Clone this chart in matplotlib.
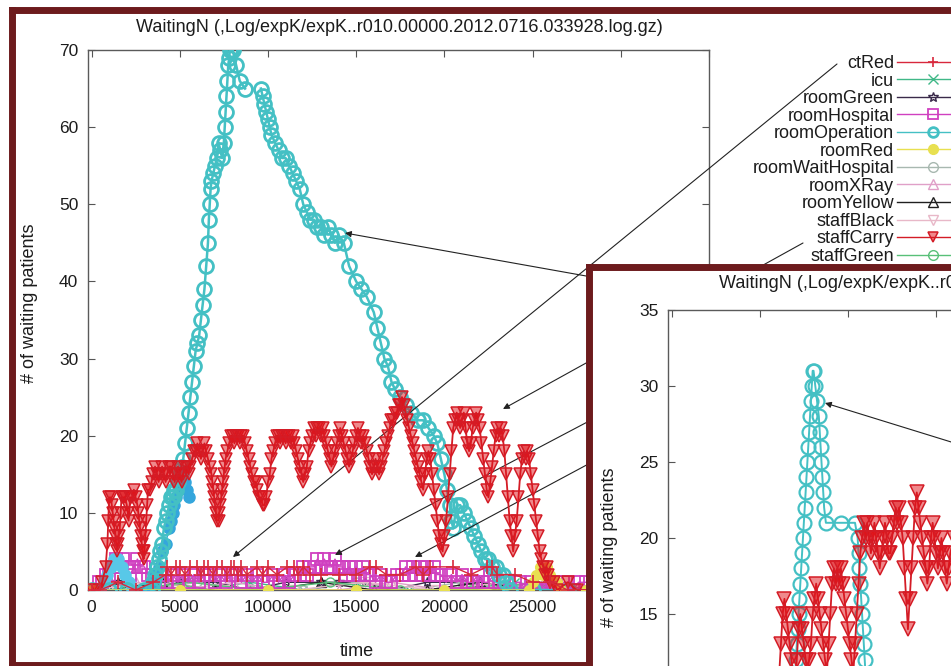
import numpy as np
import matplotlib
matplotlib.use("Agg")
import matplotlib.pyplot as plt

plt.rcParams["font.family"] = ["Liberation Sans", "DejaVu Sans"]

W, H = 951, 666
FRAME = "#6d1b1d"
INK = "#1c1c1c"
TITLE = "WaitingN (,Log/expK/expK..r010.00000.2012.0716.033928.log.gz)"
nan = np.nan

# ---------------- main run (time, # waiting) ----------------
ct_t = [0, 500, 1500, 2500, 3500, 4200, 4300, 4500, 4800, 5000,
        5300, 5600, 6000, 6200, 6400, 6600, 6900, 7100, 7400, 7700,
        7900, 8100, 8300, 8500, 8800, 9400, 9700, 10000, 10500, 11100,
        11500, 11700, 12000, 12400, 13000, 14000, 15000, 15800, 16100, 16700,
        17500, 18400, 18800, 19200, 20500, 21500, 22400, 22700, 23000, 24000,
        25000, 26000, 27000, 28500]
ct_n = [0, 0, 1, 0, 1, 2, 3, 2, 3, 3,
        2, 3, 3, 2, 3, 3, 2, 3, 3, 2,
        3, 3, 2, 3, 2, 3, 2, 3, 2, 3,
        3, 2, 3, 2, 2, 2, 2, 3, 3, 2,
        2, 3, 2, 3, 3, 2, 3, 3, 2, 2,
        1, 1, 0, 0]

icu_t = [0, 2000, 4000, 6000, 9000, 12000, 15000, 18000, 21000, 24000, 27000, 28500]
icu_n = [0, 1, 0, 0, 1, 0, 1, 0, 0, 1, 0, 0]

green_t = [0, 1500, 3000, 5000, 7000, 9000, 11000, 13000, 14000, 15500,
           17000, 19000, 21000, 23000, 25000, 26500, 28500]
green_n = [0, 1, 0, 1, 1, 0, 1, 1, 1, 1, 0, 1, 1, 0, 1, 0, 0]

hosp_t = [200, 400, 600, 800, 1000, 1200, 1400, 1600, 1800, 2000,
          2200, 2400, 2600, 2800, 3000, 3200, 3400, 3600, 3800, 4000,
          4300, 4600, 4900, 5200, 5500, 5800, 6100, 6400, 6700, 7000,
          7300, 7600, 7900, 8200, 8500, 8800, 9100, 9400, 9700, 10000,
          10300, 10600, 10900, 11200, 11500, 11800, 12000, 12200, 12400, 12600,
          12800, 13000, 13200, 13400, 13600, 13800, 14000, 14200, 14400, 14600,
          14800, 15000, 15200, 15400, 15600, 15800, 16100, 16400, 16700, 17000,
          17300, 17600, 17800, 18000, 18200, 18400, 18600, 18800, 19000, 19200,
          19400, 19600, 19800, 20100, 20400, 20700, 21000, 21300, 21600, 21900,
          22200, 22500, 22800, 23100, 23400, 23700, 24000, 24300, 24600, 24900,
          25200, 25500, 25800, 26100, 26400, 26700, 27000, 27300, 27600, 28000]
hosp_n = [0, 1, 1, 2, 2, 3, 4, 3, 4, 3,
          2, 3, 4, 3, 3, 2, 2, 1, 1, 2,
          1, 2, 1, 2, 1, 2, 1, 2, 2, 1,
          2, 1, 2, 2, 1, 2, 1, 2, 1, 1,
          2, 1, 2, 1, 2, 2, 3, 2, 3, 3,
          4, 3, 4, 3, 3, 4, 3, 3, 2, 3,
          2, 3, 2, 3, 2, 2, 1, 2, 1, 1,
          2, 2, 3, 2, 3, 2, 3, 2, 3, 2,
          3, 2, 2, 1, 2, 1, 2, 1, 1, 2,
          1, 1, 2, 1, 1, 0, 1, 1, 0, 1,
          0, 1, 0, 1, 0, 1, 1, 0, 1, 1]

op_t = [0, 1000, 2000, 3000, 3400, 3500, 3600, 3700, 3800, 3900,
        4000, 4100, 4200, 4300, 4400, 4500, 4600, 4700, 4800, 4900,
        5000, 5100, 5200, 5300, 5400, 5500, 5600, 5700, 5800, 5900,
        6000, 6100, 6200, 6300, 6400, 6500, 6600, 6650, 6700, 6750,
        6800, 6900, 7000, 7100, 7200, 7300, 7400, 7500, 7550, 7600,
        7650, 7700, 7750, 7800, 7850, 7900, 8000, 8200, 8400, 8700,
        9100, 9600, 9700, 9800, 9900, 10000, 10100, 10200, 10400, 10600,
        10800, 11000, 11200, 11400, 11600, 11800, 12000, 12200, 12400, 12600,
        12800, 13000, 13200, 13400, 13600, 13800, 14000, 14300, 14600, 15000,
        15300, 15600, 16000, 16200, 16400, 16600, 16800, 17000, 17200, 17500,
        17800, 18100, 18500, 18800, 19100, 19400, 19600, 19800, 20000, 20150,
        20300, 20400, 20500, 20700, 20900, 21100, 21300, 21500, 21700, 21900,
        22100, 22300, 22500, 22700, 22900, 23100, 23300, 23500, 23700, 25000,
        27000, 28500]
op_n = [0, 0, 0, 0, 0, 1, 2, 3, 4, 5,
        6, 8, 9, 10, 11, 12, 12, 13, 13, 14,
        15, 16, 17, 19, 21, 23, 25, 27, 29, 31,
        32, 33, 35, 37, 39, 42, 45, 48, 50, 52,
        53, 54, 55, 56, 58, 57, 56, 58, 60, 62,
        64, 66, 68, 69, 70, 70, 70, 68, 66, 65,
        nan, 65, 64, 63, 62, 61, 60, 59, 58, 57,
        56, 56, 55, 54, 53, 52, 50, 49, 48, 48,
        47, 47, 46, 47, 46, 45, 46, 45, 42, 40,
        39, 38, 36, 34, 32, 30, 29, 27, 26, 25,
        24, 23, 22, 22, 21, 20, 19, 17, 15, 13,
        11, 9, 8, 11, 11, 10, 9, 8, 7, 6,
        5, 4, 4, 3, 3, 2, 2, 1, 0, 0,
        0, 0]

red_t = [0, 5000, 10000, 15000, 20000, 24800, 25000, 25200, 25400, 25600,
         25800, 26000, 26200, 26400, 26600, 28000]
red_n = [0, 0, 0, 0, 0, 0, 1, 2, 3, 2, 3, 2, 1, 1, 0, 0]

wait_t = [0, 3000, 6000, 9000, 12000, 15000, 18000, 21000, 24000, 27000]
wait_n = [0, 0, 1, 0, 0, 1, 0, 1, 0, 0]

xray_t = [0, 2500, 5000, 8000, 11000, 14000, 17000, 20000, 23000, 26000]
xray_n = [0, 1, 0, 1, 0, 0, 1, 0, 1, 0]

yel_t = [0, 1000, 4000, 7000, 10000, 13000, 16000, 19000, 22000, 25000, 28000]
yel_n = [0, 0, 1, 0, 0, 1, 0, 0, 1, 0, 0]

black_t = [0, 3500, 7500, 11500, 15500, 19500, 23500, 27500]
black_n = [0, 1, 0, 0, 1, 0, 1, 0]

carry_t = [0, 300, 600, 800, 900, 950, 1000, 1100, 1150, 1200,
           1250, 1300, 1350, 1400, 1450, 1500, 1550, 1600, 1650, 1700,
           1800, 1900, 2000, 2050, 2100, 2200, 2300, 2400, 2500, 2600,
           2650, 2700, 2750, 2800, 2850, 2900, 2950, 3000, 3050, 3100,
           3150, 3200, 3300, 3400, 3500, 3600, 3700, 3800, 3900, 4000,
           4100, 4200, 4300, 4400, 4500, 4600, 4700, 4800, 4900, 5000,
           5100, 5200, 5300, 5400, 5500, 5600, 5700, 5800, 5900, 6000,
           6100, 6200, 6300, 6400, 6500, 6600, 6700, 6800, 6850, 6900,
           6950, 7000, 7050, 7100, 7200, 7250, 7300, 7350, 7400, 7450,
           7500, 7550, 7600, 7700, 7800, 7900, 8000, 8100, 8200, 8300,
           8400, 8500, 8600, 8700, 8800, 8900, 9000, 9100, 9200, 9300,
           9400, 9500, 9600, 9700, 9800, 9900, 10000, 10100, 10200, 10300,
           10400, 10500, 10600, 10700, 10800, 10900, 11000, 11100, 11200, 11300,
           11400, 11500, 11600, 11700, 11800, 11900, 12000, 12100, 12200, 12300,
           12400, 12500, 12600, 12700, 12800, 12900, 13000, 13100, 13200, 13300,
           13400, 13500, 13600, 13700, 13800, 13900, 14000, 14100, 14200, 14300,
           14400, 14500, 14600, 14700, 14800, 14900, 15000, 15100, 15200, 15300,
           15400, 15500, 15600, 15700, 15800, 15900, 16000, 16100, 16200, 16300,
           16400, 16500, 16600, 16700, 16800, 16900, 17000, 17100, 17200, 17300,
           17400, 17500, 17600, 17700, 17800, 17900, 18000, 18100, 18200, 18300,
           18400, 18500, 18600, 18700, 18800, 18900, 19000, 19100, 19200, 19300,
           19400, 19500, 19600, 19700, 19800, 19900, 20000, 20100, 20200, 20300,
           20400, 20500, 20600, 20700, 20800, 20900, 21000, 21100, 21200, 21300,
           21400, 21500, 21600, 21700, 21800, 21900, 22000, 22100, 22200, 22300,
           22400, 22500, 22600, 22700, 22800, 22900, 23000, 23100, 23200, 23300,
           23400, 23500, 23600, 23700, 23800, 23900, 24000, 24100, 24200, 24300,
           24400, 24500, 24600, 24700, 24800, 24900, 25000, 25100, 25200, 25300,
           25400, 25500, 25600, 25700, 25800, 25900, 26000, 26200, 26400, 27000,
           27500, 28500]
carry_n = [0, 0, 1, 3, 6, 9, 12, 12, 11, 10,
           9, 8, 7, 6, 5, 6, 7, 8, 10, 12,
           12, 12, 11, 10, 9, 12, 12, 13, 12, 11,
           10, 9, 8, 7, 6, 5, 4, 5, 7, 9,
           11, 13, 13, 14, 15, 16, 15, 14, 15, 16,
           15, 14, 15, 16, 16, 15, 14, 15, 16, 15,
           14, 15, 16, 16, 15, 16, 17, 18, 18, 19,
           18, 17, 18, 19, 18, 17, 16, 15, 14, 13,
           12, 11, 10, 9, 9, 10, 11, 12, 13, 14,
           15, 16, 17, 18, 19, 20, 20, 19, 20, 20,
           19, 20, 20, 19, 18, 17, 16, 15, 14, 14,
           13, 12, 12, 11, 11, 12, 14, 15, 17, 18,
           19, 20, 20, 19, 20, 20, 19, 20, 20, 19,
           20, 19, 18, 17, 16, 15, 14, 15, 16, 18,
           19, 20, 21, 20, 21, 21, 20, 21, 20, 19,
           18, 17, 16, 17, 18, 19, 20, 21, 20, 19,
           18, 17, 16, 17, 18, 19, 20, 21, 20, 19,
           20, 19, 18, 17, 16, 15, 16, 17, 16, 15,
           16, 17, 18, 19, 20, 21, 22, 22, 23, 23,
           24, 24, 25, 24, 23, 22, 21, 20, 19, 18,
           17, 16, 15, 14, 13, 15, 17, 18, 17, 15,
           13, 11, 9, 7, 6, 5, 7, 9, 12, 15,
           18, 21, 22, 23, 22, 21, 22, 23, 21, 19,
           18, 19, 21, 22, 23, 22, 21, 19, 17, 15,
           13, 12, 14, 16, 18, 20, 21, 20, 21, 20,
           18, 15, 12, 9, 7, 5, 7, 9, 12, 15,
           17, 18, 17, 18, 17, 15, 13, 11, 9, 7,
           5, 4, 3, 2, 3, 2, 1, 1, 0, 1,
           0, 0]

sgreen_t = [0, 2000, 5500, 9500, 13500, 17500, 21500, 25500, 28500]
sgreen_n = [0, 0, 1, 0, 1, 0, 0, 1, 0]

# two unlabelled blue series in the lower left
blue_t = [3200, 3400, 3600, 3800, 4000, 4200, 4400, 4500, 4600, 4700,
          4800, 4900, 5000, 5100, 5200, 5300, 5400, 5500]
blue_n = [0, 1, 2, 3, 5, 6, 8, 9, 10, 11, 12, 13, 14, 15, 15, 14, 13, 12]
sky_t = [500, 700, 900, 1100, 1300, 1500, 1700, 1900, 2100, 2300]
sky_n = [0, 1, 2, 3, 4, 4, 3, 2, 1, 0]

# ---------------- second run (inset) ----------------
ins_op_t = [6600, 6800, 6900, 7000, 7050, 7100, 7150, 7200, 7250, 7300,
            7350, 7400, 7450, 7500, 7550, 7600, 7650, 7700, 7750, 7800,
            7850, 7900, 7950, 8000, 8050, 8150, 8250, 8350, 8400, 8450,
            8500, 8550, 8600, 8650, 8750, 9600, 10400, 10550, 10600, 10650,
            10700, 10750, 10800, 10850, 10900, 10950, 11000, 11100, 11300]
ins_op_n = [2, 5, 8, 10, 12, 13, 14, 15, 16, 17,
            18, 19, 20, 21, 22, 23, 24, 25, 26, 27,
            28, 29, 30, 31, 31, 30, 29, 28, 27, 26,
            25, 24, 23, 22, 21, 21, 21, 20, 19, 18,
            17, 16, 15, 14, 13, 12, 11, 9, 7]

ins_carry_t = [5800, 6000, 6100, 6200, 6300, 6400, 6500, 6600, 6700, 6800,
               6900, 7000, 7100, 7200, 7300, 7400, 7500, 7600, 7700, 7800,
               7900, 8000, 8100, 8200, 8300, 8400, 8500, 8600, 8700, 8800,
               8900, 9000, 9100, 9200, 9300, 9400, 9500, 9600, 9700, 9800,
               9900, 10000, 10100, 10200, 10300, 10400, 10500, 10600, 10700, 10800,
               10900, 11000, 11100, 11200, 11300, 11400, 11500, 11600, 11700, 11800,
               11900, 12000, 12100, 12200, 12300, 12400, 12500, 12600, 12700, 12800,
               12900, 13000, 13100, 13200, 13300, 13400, 13500, 13600, 13700, 13800,
               13900, 14000, 14100, 14200, 14300, 14400, 14500, 14600, 14700, 14800,
               14900, 15000, 15100, 15200, 15300, 15400, 15500, 15600, 15700, 15800, 16000]
ins_carry_n = [5, 8, 11, 13, 15, 16, 15, 14, 13, 12,
               11, 10, 12, 14, 15, 14, 13, 12, 11, 12,
               13, 15, 16, 17, 16, 15, 14, 13, 12, 11,
               13, 15, 17, 18, 17, 18, 17, 18, 17, 16,
               15, 14, 13, 12, 11, 13, 15, 17, 19, 20,
               21, 20, 21, 20, 19, 20, 21, 20, 19, 18,
               19, 20, 21, 20, 19, 19, 20, 21, 22, 21,
               22, 21, 20, 18, 16, 14, 16, 18, 20, 22,
               23, 22, 21, 20, 19, 18, 17, 18, 20, 21,
               20, 19, 18, 19, 20, 19, 18, 17, 18, 19, 20]


def px(x, y):
    """image pixel -> figure fraction"""
    return (x / W, 1 - y / H)


def box(x0, y0, x1, y1):
    return [x0 / W, 1 - y1 / H, (x1 - x0) / W, (y1 - y0) / H]


def frame(x0, y0, z):
    fr = fig.add_axes(box(x0, y0, 1500, 664.5 if z == 0 else 1500), zorder=z)
    fr.set_xticks([])
    fr.set_yticks([])
    fr.set_facecolor("white")
    for s in fr.spines.values():
        s.set_color(FRAME)
        s.set_linewidth(5)
    return fr


def style(ax, ymax, ystep):
    ax.patch.set_alpha(0)
    ax.set_xlim(-200, 35000)
    ax.set_ylim(0, ymax)
    ax.set_xticks(range(0, 35001, 5000))
    ax.set_yticks(range(0, ymax + 1, ystep))
    ax.tick_params(direction="in", top=True, right=True, length=5, width=0.8,
                   color="#555555", labelsize=12.5, labelcolor=INK, pad=7)
    for s in ax.spines.values():
        s.set_color("#5a5a5a")
        s.set_linewidth(1.0)


def series(ax, t, n, color, marker, label="_nolegend_", ms=6.5, mfc="none",
           z=2, lw=1.0, mew=1.0):
    ax.plot(t, n, color=color, marker=marker, ms=ms, mfc=mfc, mec=color,
            mew=mew, lw=lw, label=label, zorder=z)


def arrow(ax, start, end):
    ax.annotate("", xy=px(*end), xytext=px(*start), xycoords="figure fraction",
                textcoords="figure fraction",
                arrowprops=dict(arrowstyle="-|>", color="#222222", lw=0.8,
                                mutation_scale=9, shrinkA=0, shrinkB=0))


CYAN = "#44c0c4"
RED = "#d41c26"
RED_FILL = (0.88, 0.08, 0.1, 0.5)

fig = plt.figure(figsize=(W / 100, H / 100), dpi=100, facecolor="white")

# ---------- main panel ----------
frame(11.5, 10, 0)
ax = fig.add_axes(box(88, 50, 709, 590), zorder=1)
style(ax, 70, 10)

series(ax, ct_t, ct_n, "#d8283c", "+", "ctRed", ms=10, z=4.5, mew=1.2)
series(ax, icu_t, icu_n, "#40b888", "x", "icu", ms=6)
series(ax, green_t, green_n, "#3a2a4a", "*", "roomGreen", ms=7)
series(ax, hosp_t, hosp_n, "#d040c0", "s", "roomHospital", ms=8, z=2.5, mew=1.3)
series(ax, op_t, op_n, CYAN, "o", "roomOperation", ms=10, z=3, lw=1.8, mew=2.0)
series(ax, red_t, red_n, "#e8e050", "o", "roomRed", ms=7, mfc="#e8e050", z=4)
series(ax, wait_t, wait_n, "#a8b8b0", "o", "roomWaitHospital")
series(ax, xray_t, xray_n, "#e0a0c8", "^", "roomXRay")
series(ax, yel_t, yel_n, "#202020", "^", "roomYellow")
series(ax, black_t, black_n, "#e8b8c8", "v", "staffBlack")
series(ax, carry_t, carry_n, RED, "v", "staffCarry", ms=9, mfc=RED_FILL, z=4, lw=1.3, mew=1.1)
series(ax, sgreen_t, sgreen_n, "#58c078", "o", "staffGreen")
series(ax, blue_t, blue_n, "#34a6dc", "o", ms=8, mfc="#34a6dc", z=2.8)
series(ax, sky_t, sky_n, "#58c8e8", "o", ms=8, mfc="#58c8e8", z=2.6)

leg = ax.legend(loc="upper right", bbox_to_anchor=px(969, 55), bbox_transform=fig.transFigure,
                frameon=False, markerfirst=False, numpoints=1, fontsize=13, labelcolor=INK,
                handlelength=4, handletextpad=0.15, labelspacing=0.03,
                borderpad=0, borderaxespad=0)
for h in leg.get_lines():
    h.set_markersize(7)
    h.set_linewidth(1.0)

ax.text(*px(399, 27), TITLE, transform=fig.transFigure, ha="center", va="center",
        fontsize=13, color=INK)
ax.text(*px(30, 303), "# of waiting patients", transform=fig.transFigure, rotation=90,
        ha="center", va="center", fontsize=13, color=INK)
ax.text(*px(357, 652), "time", transform=fig.transFigure, ha="center", va="center",
        fontsize=13, color=INK)

arrow(ax, (837, 64), (233, 557))
arrow(ax, (803, 243), (503, 409))
arrow(ax, (760, 331), (335, 555))
arrow(ax, (760, 372), (415, 557))
arrow(ax, (760, 307), (345, 233))

# ---------- inset panel ----------
frame(588.5, 266.5, 2)
ax2 = fig.add_axes(box(668, 310, 1289, 842), zorder=3)
style(ax2, 35, 5)

series(ax2, ins_op_t, ins_op_n, CYAN, "o", ms=10, z=3, lw=1.4, mew=1.6)
series(ax2, ins_carry_t, ins_carry_n, RED, "v", ms=10, mfc=RED_FILL, z=4, lw=1.3, mew=1.1)

ax2.text(*px(982, 283), TITLE, transform=fig.transFigure, ha="center", va="center",
         fontsize=13, color=INK)
ax2.text(*px(610, 547), "# of waiting patients", transform=fig.transFigure, rotation=90,
         ha="center", va="center", fontsize=13, color=INK)
arrow(ax2, (1100, 488), (825, 403))

fig.savefig("out.png", dpi=100, facecolor="white")
